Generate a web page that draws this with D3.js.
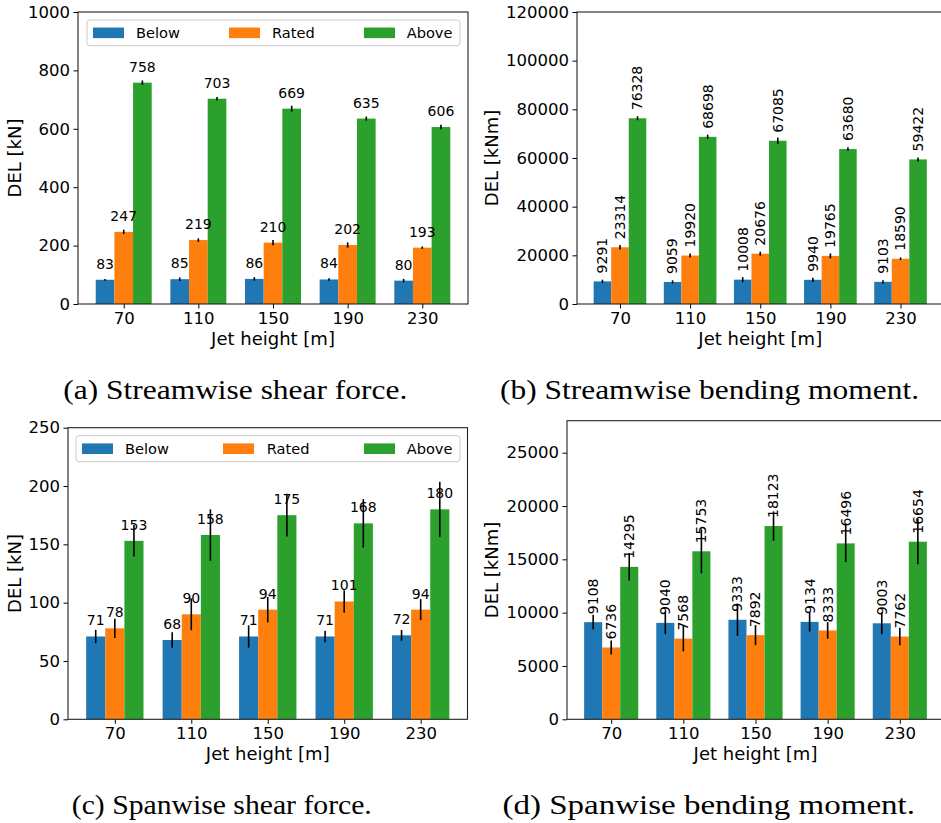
<!DOCTYPE html>
<html><head><meta charset="utf-8">
<script src="https://cdn.jsdelivr.net/npm/d3@7"></script>
<style>
body{margin:0;background:#fff}
svg{display:block}
</style>
</head><body><svg id="chart" width="941" height="823" font-family="DejaVu Sans"></svg>
<script>
// ---------- data ----------
const categories = ["70", "110", "150", "190", "230"];
const seriesNames = ["Below", "Rated", "Above"];
const seriesColors = ["#1f77b4", "#ff7f0e", "#2ca02c"];
const xAxisLabel = "Jet height [m]";

// (a) streamwise shear force
const aBelow = [83, 85, 86, 84, 80];
const aRated = [247, 219, 210, 202, 193];
const aAbove = [758, 703, 669, 635, 606];
const aBelowErr = [3, 6, 6, 4.5, 6];
const aRatedErr = [7.5, 6, 9, 9, 4];
const aAboveErr = [7.5, 6, 10, 7, 7.5];
const aTicks = [0, 200, 400, 600, 800, 1000];

// (b) streamwise bending moment
const bBelow = [9291, 9059, 10008, 9940, 9103];
const bRated = [23314, 19920, 20676, 19765, 18590];
const bAbove = [76328, 68698, 67085, 63680, 59422];
const bBelowErr = [700, 680, 1030, 890, 680];
const bRatedErr = [900, 820, 820, 1030, 550];
const bAboveErr = [820, 890, 1300, 750, 820];
const bTicks = [0, 20000, 40000, 60000, 80000, 100000, 120000];

// (c) spanwise shear force
const cBelow = [71, 68, 71, 71, 72];
const cRated = [78, 90, 94, 101, 94];
const cAbove = [153, 158, 175, 168, 180];
const cBelowErr = [5.7, 6.6, 9.6, 5, 4.6];
const cRatedErr = [8.3, 13.6, 10.9, 9.6, 9];
const cAboveErr = [13.5, 22, 18.3, 20.8, 23.6];
const cTicks = [0, 50, 100, 150, 200, 250];

// (d) spanwise bending moment
const dBelow = [9108, 9040, 9333, 9134, 9003];
const dRated = [6736, 7568, 7892, 8333, 7762];
const dAbove = [14295, 15753, 18123, 16496, 16654];
const dBelowErr = [690, 1060, 1500, 907, 1030];
const dRatedErr = [656, 1190, 940, 781, 813];
const dAboveErr = [1284, 2063, 1375, 1750, 2125];
const dTicks = [0, 5000, 10000, 15000, 20000, 25000];

const captions = ["(a) Streamwise shear force.", "(b) Streamwise bending moment.",
                  "(c) Spanwise shear force.", "(d) Spanwise bending moment."];

// ---------- layout ----------
const panels = [
  {vals:[aBelow,aRated,aAbove], errs:[aBelowErr,aRatedErr,aAboveErr], ticks:aTicks, ymax:1000,
   left:78, right:468, top:12, bottom:304, yLabel:"DEL [kN]", yLabelX:15, rotate:false,
   legend:{x0:87,x1:460,y0:20,y1:45.7,patchX:[93,229,364],textX:[136,272,406.7]},
   cap:{text:captions[0], x:63.3, w:344, y:399}},
  {vals:[bBelow,bRated,bAbove], errs:[bBelowErr,bRatedErr,bAboveErr], ticks:bTicks, ymax:120000,
   left:577, right:943.5, top:12, bottom:304, yLabel:"DEL [kNm]", yLabelX:491.7, rotate:true,
   legend:null, cap:{text:captions[1], x:500, w:419, y:399}},
  {vals:[cBelow,cRated,cAbove], errs:[cBelowErr,cRatedErr,cAboveErr], ticks:cTicks, ymax:250,
   left:68, right:467.5, top:427.7, bottom:719.3, yLabel:"DEL [kN]", yLabelX:15, rotate:false,
   legend:{x0:76,x1:460,y0:435.7,y1:461.7,patchX:[82,223,364],textX:[125,266.7,406.7]},
   cap:{text:captions[2], x:71.8, w:300, y:814}},
  {vals:[dBelow,dRated,dAbove], errs:[dBelowErr,dRatedErr,dAboveErr], ticks:dTicks, ymax:28000,
   left:567, right:944, top:420.7, bottom:719.3, yLabel:"DEL [kNm]", yLabelX:491.7, rotate:true,
   legend:null, cap:{text:captions[3], x:502.4, w:412.6, y:814}}
];

const svg = d3.select("#chart");
svg.append("rect").attr("width",941).attr("height",823).attr("fill","#fff");

panels.forEach(p => {
  const g = svg.append("g");
  const x = d3.scaleLinear().domain([-0.6125, 4.6125]).range([p.left, p.right]);
  const y = d3.scaleLinear().domain([0, p.ymax]).range([p.bottom, p.top]);
  const bw = x(0.25) - x(0);

  // bars
  p.vals.forEach((arr, k) => {
    g.append("g").selectAll("rect").data(arr).join("rect")
      .attr("x", (v,i) => x(i + (k-1)*0.25) - bw/2)
      .attr("width", bw)
      .attr("y", v => y(v))
      .attr("height", v => y(0) - y(v))
      .attr("fill", seriesColors[k]);
  });

  // error bars
  p.vals.forEach((arr, k) => {
    g.append("g").selectAll("line").data(arr).join("line")
      .attr("x1", (v,i) => x(i + (k-1)*0.25))
      .attr("x2", (v,i) => x(i + (k-1)*0.25))
      .attr("y1", (v,i) => y(v - p.errs[k][i]))
      .attr("y2", (v,i) => y(v + p.errs[k][i]))
      .attr("stroke", "#000").attr("stroke-width", 1.6);
  });

  // value labels
  p.vals.forEach((arr, k) => {
    const t = g.append("g").selectAll("text").data(arr).join("text")
      .style("font-family", "'DejaVu Sans'")
      .attr("font-size", 14).attr("fill", "#000")
      .text(v => v);
    if (!p.rotate) {
      t.attr("x", (v,i) => x(i + (k-1)*0.25))
       .attr("y", v => y(v) - 11)
       .attr("text-anchor", "middle");
    } else {
      t.attr("transform", (v,i) => `translate(${x(i + (k-1)*0.25)},${y(v) - 8}) rotate(-90)`)
       .attr("text-anchor", "start")
       .attr("dy", "0.35em");
    }
  });

  // axes
  const xa = g.append("g").attr("transform", `translate(0,${p.bottom})`)
    .call(d3.axisBottom(x).tickValues(d3.range(categories.length))
      .tickFormat(i => categories[i]).tickSize(4.5).tickPadding(3.5));
  const ya = g.append("g").attr("transform", `translate(${p.left},0)`)
    .call(d3.axisLeft(y).tickValues(p.ticks).tickFormat(d3.format("d")).tickSize(4.5).tickPadding(3.5));
  [xa, ya].forEach(a => {
    a.select(".domain").remove();
    a.selectAll("line").attr("stroke", "#000").attr("stroke-width", 1);
    a.selectAll("text").attr("font-size", 16.5).attr("fill", "#000")
      .style("font-family", "'DejaVu Sans'");
  });

  // spines
  g.append("rect").attr("x", p.left).attr("y", p.top)
    .attr("width", p.right - p.left).attr("height", p.bottom - p.top)
    .attr("fill", "none").attr("stroke", "#222").attr("stroke-width", 1.1);

  // axis labels
  g.append("text").attr("x", (p.left + p.right)/2).attr("y", p.bottom + 41)
    .style("font-family", "'DejaVu Sans'")
    .attr("text-anchor", "middle").attr("font-size", 18).text(xAxisLabel);
  g.append("text").attr("transform", `translate(${p.yLabelX},${(p.top + p.bottom)/2}) rotate(-90)`)
    .style("font-family", "'DejaVu Sans'")
    .attr("text-anchor", "middle").attr("dy", "0.35em").attr("font-size", 18).text(p.yLabel);

  // legend
  if (p.legend) {
    const L = p.legend;
    g.append("rect").attr("x", L.x0).attr("y", L.y0).attr("width", L.x1 - L.x0).attr("height", L.y1 - L.y0)
      .attr("rx", 3).attr("fill", "#fff").attr("fill-opacity", 0.8)
      .attr("stroke", "#cccccc").attr("stroke-width", 1);
    const cy = (L.y0 + L.y1) / 2;
    seriesNames.forEach((name, k) => {
      g.append("rect").attr("x", L.patchX[k]).attr("y", cy - 5.3).attr("width", 31).attr("height", 10.6)
        .attr("fill", seriesColors[k]);
      g.append("text").attr("x", L.textX[k]).attr("y", cy).attr("dy", "0.35em")
        .style("font-family", "'DejaVu Sans'")
        .attr("font-size", 14.6).text(name);
    });
  }

  // caption
  svg.append("text").attr("x", p.cap.x).attr("y", p.cap.y)
    .style("font-family", "'Liberation Serif', 'DejaVu Serif', serif")
    .attr("font-size", 28)
    .attr("textLength", p.cap.w).attr("lengthAdjust", "spacingAndGlyphs")
    .text(p.cap.text);
});
</script>
</body></html>
